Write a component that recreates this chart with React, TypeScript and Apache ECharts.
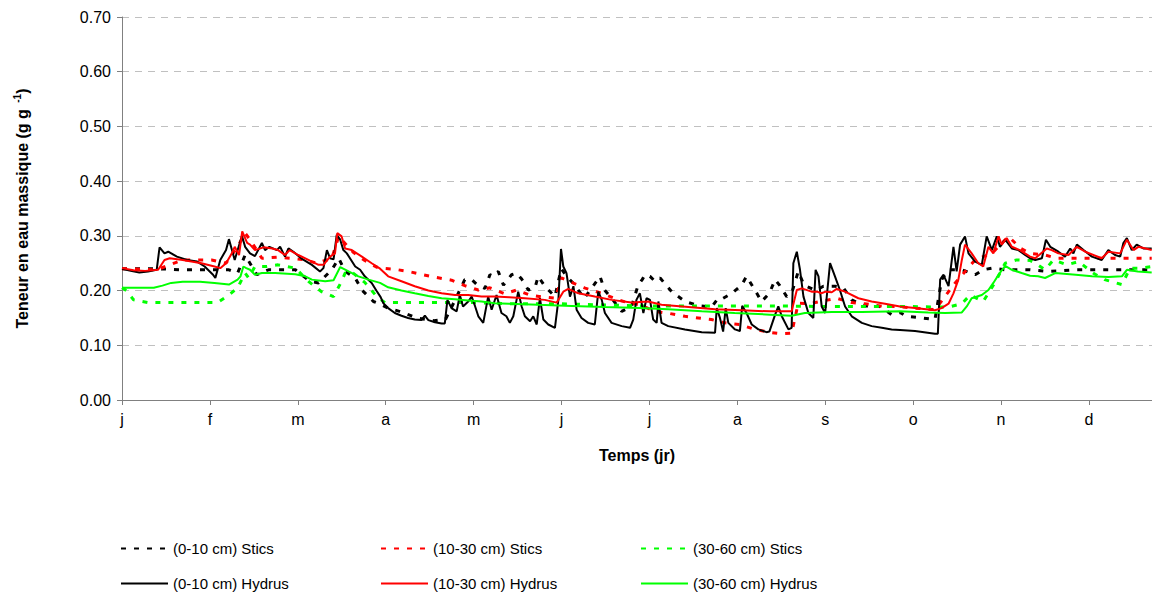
import React, { useEffect, useRef } from 'react';
import * as echarts from 'echarts';

// ---- Axis / labels ----
const monthLabels = ['j', 'f', 'm', 'a', 'm', 'j', 'j', 'a', 's', 'o', 'n', 'd'];
const yMin = 0;
const yMax = 0.7;
const yStep = 0.1;
const dayMax = 356.4;
const monthLen = 365 / 12;

const legendNames = [
  '(0-10 cm) Stics',
  '(10-30 cm) Stics',
  '(30-60 cm) Stics',
  '(0-10 cm) Hydrus',
  '(10-30 cm) Hydrus',
  '(30-60 cm) Hydrus',
];

// ---- Series: [day, water content g/g] ----
const sticsTop: [number, number][] = [
  [0, 0.240], [12, 0.240], [20, 0.238], [30, 0.238], [37, 0.238], [40, 0.232], [42.6, 0.265],
  [46.6, 0.229], [50.7, 0.238], [55.3, 0.238], [60, 0.238], [65, 0.217], [68, 0.214], [69.7, 0.223],
  [72.6, 0.238], [75, 0.259], [77.2, 0.235], [80.7, 0.223], [83, 0.201], [87, 0.180], [89, 0.176],
  [92, 0.168], [96, 0.162], [102, 0.150], [108, 0.145], [112, 0.148], [115, 0.180], [118.6, 0.220],
  [121, 0.220], [123, 0.210], [125.6, 0.204], [127.3, 0.229], [128.4, 0.226], [130.2, 0.235], [132, 0.210],
  [134.8, 0.229], [136.5, 0.232], [138.3, 0.221], [140.6, 0.201], [142.9, 0.205], [144, 0.226],
  [146.3, 0.208], [149.8, 0.189], [151, 0.217], [152, 0.240], [154, 0.225], [156, 0.214], [160, 0.186],
  [165.4, 0.226], [167, 0.201], [169.4, 0.186], [172.9, 0.162], [176.3, 0.171], [178.6, 0.210],
  [180, 0.220], [181, 0.229], [182.7, 0.226], [184.4, 0.217], [186.2, 0.223], [190.2, 0.198],
  [194.8, 0.180], [200, 0.172], [204, 0.170], [206.3, 0.186], [208, 0.186], [211, 0.195], [214.4, 0.210],
  [216.1, 0.226], [219, 0.201], [221.3, 0.180], [224, 0.195], [226, 0.220], [227.5, 0.210], [230, 0.189],
  [232, 0.200], [234, 0.235], [236, 0.210], [240, 0.200], [242.7, 0.208], [246.7, 0.208], [249.6, 0.205],
  [252.5, 0.183], [257, 0.172], [262.3, 0.171], [266.3, 0.156], [269.2, 0.160], [271.5, 0.153],
  [276.7, 0.150], [281.3, 0.147], [283.6, 0.220], [286, 0.238], [290.6, 0.238], [295.2, 0.229],
  [298, 0.238], [301, 0.241], [305.6, 0.238], [310.2, 0.238], [314.2, 0.238], [320, 0.235],
  [330, 0.238], [340, 0.238], [350, 0.238], [356.3, 0.238],
];

const sticsMid: [number, number][] = [
  [0, 0.240], [12, 0.238], [21, 0.256], [31, 0.256], [36, 0.250], [40, 0.280], [42.6, 0.305],
  [44.3, 0.293], [48.4, 0.259], [53.6, 0.261], [58.7, 0.259], [63.4, 0.256], [67.4, 0.250],
  [72.6, 0.259], [75, 0.299], [76, 0.293], [80, 0.270], [84, 0.255], [88, 0.243], [89.2, 0.241],
  [94.4, 0.239], [99, 0.235], [104.2, 0.229], [108.8, 0.224], [114, 0.219], [118.6, 0.209],
  [123.3, 0.201], [127.3, 0.205], [132.5, 0.194], [136.5, 0.201], [141, 0.192], [146, 0.188],
  [150, 0.186], [152, 0.223], [156, 0.214], [160, 0.205], [166, 0.195], [171.7, 0.183], [175, 0.178],
  [179.2, 0.174], [184.4, 0.162], [189.6, 0.158], [194.8, 0.153], [199.4, 0.150], [204, 0.147],
  [208.6, 0.141], [213.8, 0.138], [218.4, 0.130], [223.6, 0.124], [228.3, 0.121], [231.7, 0.122],
  [234, 0.177], [238, 0.176], [241.5, 0.180], [247.3, 0.186], [252.5, 0.178], [257, 0.176],
  [262.3, 0.172], [267.5, 0.171], [274, 0.168], [281.3, 0.165], [288.3, 0.214], [295.2, 0.256],
  [301, 0.268], [306.7, 0.299], [311, 0.277], [314.2, 0.268], [319.4, 0.265], [323.5, 0.259],
  [330, 0.259], [340, 0.259], [350, 0.259], [356.3, 0.259],
];

const sticsDeep: [number, number][] = [
  [0, 0.205], [1.5, 0.200], [4, 0.183], [9, 0.178], [20, 0.178], [33, 0.178], [37, 0.192], [40, 0.205],
  [42, 0.226], [42.6, 0.232], [43.8, 0.223], [46, 0.244], [50, 0.244], [54, 0.247], [60, 0.241],
  [64.5, 0.217], [69, 0.198], [73.2, 0.189], [76, 0.217], [77.2, 0.232], [79, 0.236], [84, 0.215],
  [88, 0.190], [91, 0.178], [100, 0.178], [110, 0.178], [122, 0.178], [127, 0.177], [134, 0.176],
  [150, 0.176], [165, 0.174], [179, 0.172], [200, 0.172], [224, 0.172], [240, 0.171], [260, 0.171],
  [270, 0.171], [281.3, 0.170], [286, 0.170], [290.6, 0.176], [293.5, 0.192], [298, 0.180],
  [302, 0.214], [305.6, 0.250], [309.6, 0.256], [314.2, 0.255], [316, 0.250], [319.4, 0.238],
  [322.3, 0.256], [327, 0.247], [331, 0.253], [336, 0.232], [340, 0.220], [346, 0.211],
  [348.8, 0.241], [352.5, 0.241], [356.3, 0.244],
];

const hydrusTop: [number, number][] = [
  [0, 0.240], [3, 0.236], [6, 0.233], [9, 0.235], [12, 0.238], [13, 0.279], [14.7, 0.268], [16, 0.271],
  [19, 0.262], [22.5, 0.256], [26, 0.253], [28.6, 0.244], [31.5, 0.229], [32.3, 0.223], [34, 0.256],
  [36, 0.274], [37, 0.294], [39, 0.256], [41.5, 0.300], [42.6, 0.280], [44.3, 0.268], [46, 0.263],
  [48.4, 0.287], [49.5, 0.274], [51, 0.280], [53.6, 0.274], [54.7, 0.280], [56.4, 0.262], [57.6, 0.277],
  [59.3, 0.271], [62, 0.259], [65.7, 0.247], [68.5, 0.235], [69.7, 0.241], [70.9, 0.274], [72, 0.259],
  [73.2, 0.257], [74.3, 0.302], [75.5, 0.293], [76.6, 0.274], [77.8, 0.268], [80.7, 0.244],
  [82.4, 0.238], [84, 0.226], [86.4, 0.214], [88, 0.200], [89.5, 0.188], [90.4, 0.177], [92.1, 0.168],
  [94.4, 0.159], [96.7, 0.154], [99, 0.150], [101.3, 0.147], [103.6, 0.146], [104.8, 0.154], [106, 0.146],
  [108.3, 0.142], [110.6, 0.140], [111.7, 0.140], [112.6, 0.183], [114, 0.168], [115.8, 0.162],
  [116.9, 0.192], [118, 0.171], [119.8, 0.180], [121, 0.189], [122, 0.174], [123.3, 0.153], [125, 0.141],
  [126.7, 0.189], [127.9, 0.165], [129.6, 0.192], [131.3, 0.159], [133, 0.153], [134.2, 0.141],
  [135.4, 0.153], [137.1, 0.198], [138.3, 0.171], [139.4, 0.153], [141.2, 0.144], [142.3, 0.153],
  [143.5, 0.138], [144.6, 0.186], [145.8, 0.147], [147.5, 0.138], [149.8, 0.132], [151, 0.183],
  [151.9, 0.276], [152.7, 0.244], [153.8, 0.232], [155, 0.189], [156.2, 0.208], [157.3, 0.165],
  [159, 0.150], [161.3, 0.141], [163.6, 0.138], [164.8, 0.198], [166, 0.183], [167.1, 0.159],
  [169.4, 0.141], [172.9, 0.135], [175.8, 0.132], [176.9, 0.147], [178, 0.183], [179.2, 0.195],
  [180.4, 0.159], [181.5, 0.186], [182.7, 0.183], [183.8, 0.147], [185, 0.141], [185.6, 0.180],
  [186.7, 0.141], [189, 0.135], [194.8, 0.129], [200.6, 0.124], [205.2, 0.123], [205.8, 0.168],
  [206.9, 0.150], [208, 0.125], [208.9, 0.168], [209.8, 0.141], [212.1, 0.129], [213.8, 0.126],
  [214.6, 0.172], [216.1, 0.159], [217.9, 0.138], [220.2, 0.129], [223, 0.124], [224, 0.125],
  [226, 0.156], [227.1, 0.171], [228.3, 0.153], [230.6, 0.129], [231.7, 0.132], [232.3, 0.250],
  [233.5, 0.271], [234.6, 0.238], [235.8, 0.189], [237.5, 0.159], [239.2, 0.150], [240, 0.238],
  [241, 0.226], [242.1, 0.171], [243.3, 0.159], [245, 0.250], [246.7, 0.226], [248.4, 0.201],
  [250.2, 0.171], [252.5, 0.153], [256, 0.141], [259.4, 0.135], [262.9, 0.132], [266.3, 0.129],
  [269.2, 0.128], [274.4, 0.126], [281.3, 0.121], [282.3, 0.121], [283.1, 0.220], [284.2, 0.229],
  [286, 0.208], [287.7, 0.280], [288.8, 0.235], [290, 0.284], [291.7, 0.299], [292.9, 0.268],
  [295.2, 0.253], [297.5, 0.247], [299.2, 0.299], [301, 0.274], [302.7, 0.299], [303.8, 0.280],
  [305.6, 0.293], [307.9, 0.277], [310.2, 0.274], [312.5, 0.265], [314.2, 0.259], [316, 0.256],
  [318.3, 0.259], [319.7, 0.293], [321.2, 0.280], [324, 0.271], [326.3, 0.262], [328.1, 0.277],
  [329.2, 0.268], [330.4, 0.284], [332.7, 0.274], [335.6, 0.262], [339, 0.256], [341.3, 0.274],
  [343.6, 0.265], [345.4, 0.262], [346.5, 0.287], [347.7, 0.296], [349.4, 0.274], [351.1, 0.284],
  [353.4, 0.277], [356.3, 0.277],
];

const hydrusMid: [number, number][] = [
  [0, 0.241], [4, 0.237], [8, 0.236], [12.5, 0.238], [14.7, 0.256], [16.5, 0.259], [21, 0.256],
  [27.5, 0.250], [32, 0.244], [34, 0.241], [36, 0.250], [38, 0.268], [39, 0.280], [40.5, 0.265],
  [41.6, 0.308], [43.3, 0.287], [44.3, 0.284], [46, 0.274], [49, 0.279], [52, 0.277], [54, 0.274],
  [56.4, 0.265], [58, 0.274], [61, 0.265], [64.5, 0.256], [68, 0.247], [69.7, 0.247], [72, 0.262],
  [73.7, 0.268], [74.5, 0.305], [76, 0.299], [77.2, 0.277], [79.5, 0.274], [83, 0.262], [86.4, 0.250],
  [89.3, 0.240], [92.1, 0.226], [96.7, 0.217], [101.3, 0.208], [106, 0.200], [110.6, 0.195],
  [115.2, 0.192], [119.8, 0.192], [124.4, 0.189], [129, 0.189], [134, 0.188], [139.4, 0.186],
  [146.3, 0.183], [150.4, 0.178], [152.7, 0.198], [154.4, 0.203], [157.9, 0.195], [163.6, 0.189],
  [169.4, 0.183], [176.3, 0.178], [182.1, 0.180], [186.7, 0.174], [196, 0.170], [205.2, 0.166],
  [214.4, 0.164], [224.2, 0.162], [231.7, 0.162], [233.5, 0.201], [235.2, 0.204], [238.6, 0.198],
  [240.5, 0.198], [242, 0.195], [243.5, 0.198], [245.6, 0.197], [247.3, 0.203], [250.2, 0.198],
  [254.8, 0.186], [259.4, 0.180], [264, 0.176], [269.2, 0.171], [274.4, 0.168], [281.3, 0.164],
  [283.6, 0.168], [286, 0.176], [287.7, 0.195], [289.4, 0.220], [290.6, 0.256], [291.7, 0.284],
  [294, 0.268], [296.3, 0.250], [298, 0.244], [299.8, 0.280], [301.5, 0.268], [303.3, 0.299],
  [304.4, 0.284], [306.1, 0.296], [307.9, 0.280], [310.7, 0.274], [314.2, 0.262], [316, 0.259],
  [320, 0.277], [321.7, 0.274], [324, 0.268], [327.5, 0.265], [330.4, 0.280], [333.3, 0.271],
  [339, 0.259], [341.3, 0.271], [345.4, 0.268], [347.7, 0.293], [350, 0.274], [351.7, 0.280],
  [356.3, 0.274],
];

const hydrusDeep: [number, number][] = [
  [0, 0.205], [11, 0.205], [14, 0.209], [17, 0.214], [21, 0.216], [27, 0.216], [32, 0.214], [37, 0.211],
  [40, 0.220], [41, 0.226], [42, 0.244], [43, 0.241], [44.3, 0.238], [46, 0.229], [48.4, 0.232],
  [53, 0.232], [60, 0.230], [63.4, 0.226], [65.7, 0.220], [70.3, 0.217], [73.2, 0.219], [75.5, 0.243],
  [78.4, 0.235], [81.8, 0.226], [85.3, 0.220], [89.3, 0.214], [92.1, 0.206], [96.7, 0.200],
  [101.3, 0.195], [106, 0.190], [110.6, 0.186], [115.2, 0.184], [119.8, 0.182], [124.4, 0.180],
  [129, 0.177], [134, 0.176], [144, 0.174], [155.6, 0.172], [167.1, 0.170], [179.2, 0.168],
  [189, 0.166], [200.6, 0.162], [212, 0.159], [224.2, 0.156], [231.7, 0.154], [236.3, 0.159],
  [245.6, 0.161], [256, 0.161], [269.2, 0.162], [279, 0.160], [284.8, 0.159], [290.6, 0.160],
  [292.3, 0.171], [294, 0.186], [297.5, 0.192], [299.8, 0.201], [301.5, 0.214], [303.3, 0.229],
  [305.6, 0.245], [307.9, 0.238], [311.3, 0.232], [314.2, 0.227], [317, 0.226], [319.4, 0.223],
  [322.9, 0.232], [330, 0.229], [335.6, 0.226], [341.3, 0.225], [346, 0.226], [347.7, 0.238],
  [351.5, 0.235], [356.3, 0.233],
];

const FONT = "'Liberation Sans', Arial, Helvetica, sans-serif";

export default function App() {
  const ref = useRef<HTMLDivElement>(null);

  useEffect(() => {
    if (!ref.current) return;
    const chart = echarts.init(ref.current, null, { renderer: 'svg' });

    const colors = ['#000000', '#ff0000', '#00ff00'];
    const sticsData = [sticsTop, sticsMid, sticsDeep];
    const hydrusData = [hydrusTop, hydrusMid, hydrusDeep];

    const series: any[] = [];
    sticsData.forEach((d, i) => {
      series.push({
        name: legendNames[i],
        type: 'line',
        data: d,
        symbol: 'none',
        showSymbol: false,
        lineStyle: { color: colors[i], width: 3, type: [5, 8] },
        itemStyle: { color: colors[i] },
        z: 2,
      });
    });
    hydrusData.forEach((d, i) => {
      series.push({
        name: legendNames[i + 3],
        type: 'line',
        data: d,
        symbol: 'none',
        showSymbol: false,
        lineStyle: { color: colors[i], width: 2 },
        itemStyle: { color: colors[i] },
        z: 3,
      });
    });

    const legendLeft = [120, 380, 640];
    const legends = legendNames.map((n, i) => ({
      data: [n],
      left: legendLeft[i % 3],
      top: i < 3 ? 541 : 576,
      padding: 0,
      itemGap: 0,
      itemWidth: 47,
      itemHeight: 12,
      selectedMode: false,
      itemStyle: { opacity: 0, borderWidth: 0 },
      textStyle: { fontFamily: FONT, fontSize: 15, color: '#000' },
    }));

    chart.setOption({
      animation: false,
      backgroundColor: '#ffffff',
      grid: { left: 122, top: 17, right: 0, height: 383 },
      legend: legends,
      xAxis: {
        type: 'value',
        min: 0,
        max: dayMax,
        interval: monthLen,
        name: 'Temps (jr)',
        nameLocation: 'middle',
        nameGap: 47,
        nameTextStyle: { fontFamily: FONT, fontSize: 16, fontWeight: 'bold', color: '#000' },
        axisLine: { show: true, onZero: false, lineStyle: { color: '#808080', width: 1 } },
        axisTick: { show: true, length: 5, lineStyle: { color: '#808080' } },
        axisLabel: {
          fontFamily: FONT,
          fontSize: 16,
          color: '#000',
          margin: 11,
          showMaxLabel: false,
          formatter: (v: number) => {
            const idx = Math.round(v / monthLen);
            if (Math.abs(v - idx * monthLen) > 0.5 || idx > 11) return '';
            return monthLabels[idx];
          },
        },
        splitLine: { show: false },
      },
      yAxis: {
        type: 'value',
        min: yMin,
        max: yMax,
        interval: yStep,
        name: 'Teneur en eau massique (g g {sup|-1})',
        nameLocation: 'middle',
        nameGap: 90,
        nameRotate: 90,
        nameTextStyle: {
          fontFamily: FONT,
          fontSize: 16,
          fontWeight: 'bold',
          color: '#000',
          rich: {
            sup: {
              fontFamily: FONT,
              fontSize: 10,
              fontWeight: 'bold',
              color: '#000',
              verticalAlign: 'top',
              padding: [0, 0, 10, 2],
            },
          },
        },
        axisLine: { show: true, lineStyle: { color: '#808080', width: 1 } },
        axisTick: { show: true, length: 5, lineStyle: { color: '#808080' } },
        axisLabel: {
          fontFamily: FONT,
          fontSize: 16,
          color: '#000',
          margin: 11,
          formatter: (v: number) => v.toFixed(2),
        },
        splitLine: { show: true, lineStyle: { color: '#c0c0c0', width: 1, type: [7, 6] } },
      },
      series,
    });

    return () => {
      chart.dispose();
    };
  }, []);

  return (
    <div
      ref={ref}
      style={{ position: 'fixed', left: 0, top: 0, width: 1152, height: 596, background: '#fff' }}
    />
  );
}
